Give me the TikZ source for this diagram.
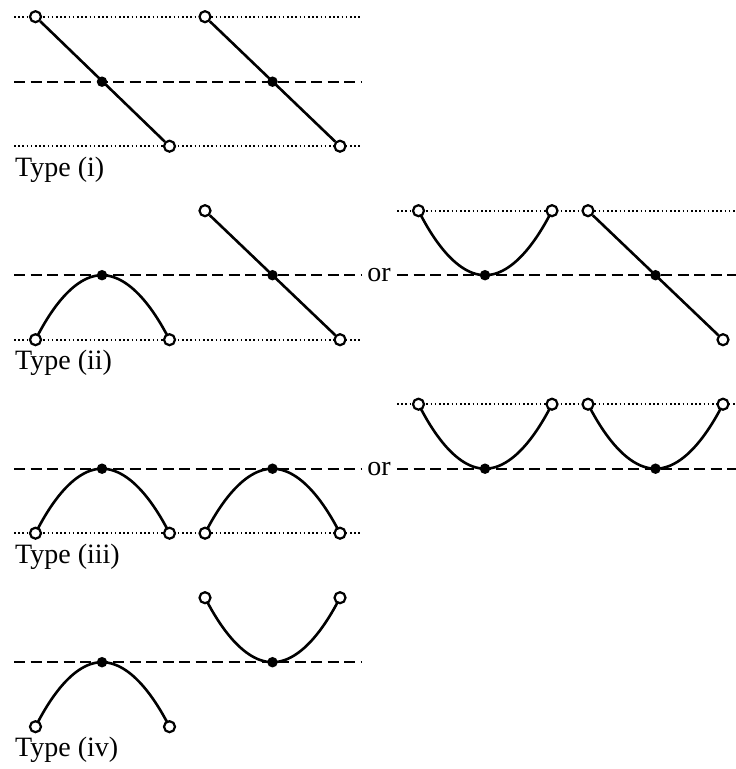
\documentclass[tikz,border=0pt]{standalone}
\usepackage{fontspec}
\setmainfont{Liberation Serif}
\usetikzlibrary{backgrounds}

\begin{document}
\begin{tikzpicture}[
    x=1pt, y=-1pt,
    opendot/.style={circle, draw=black, line width=2.2pt, fill=white, inner sep=0pt, minimum size=11pt},
    fulldot/.style={circle, fill=black, inner sep=0pt, minimum size=10.5pt},
    curve/.style={line width=2.6pt},
    dashline/.style={line width=2.3pt, dash pattern=on 11pt off 5.5pt},
    dotline/.style={line width=1.6pt, dash pattern=on 1.5pt off 2.7pt},
    typelabel/.style={font=\fontsize{28}{33}\selectfont, anchor=base west, inner sep=0pt},
    ortext/.style={font=\fontsize{28}{33}\selectfont, inner sep=0pt},
  ]
    \useasboundingbox (0,0) rectangle (736,769);
    % Type (i)
    \node[opendot] (i-t1) at (35.5,16.7) {};
    \node[fulldot] (i-m1) at (102,81.7) {};
    \node[opendot] (i-b1) at (169.5,146.2) {};
    \node[opendot] (i-t2) at (205,16.7) {};
    \node[fulldot] (i-m2) at (272.5,81.7) {};
    \node[opendot] (i-b2) at (340,146.2) {};
    \node[typelabel] (i-lab) at (15,176.2) {Type (i)};
    % Type (ii)
    \node[opendot] (ii-b1) at (35.5,339.7) {};
    \node[fulldot] (ii-m1) at (102,275.2) {};
    \node[opendot] (ii-b2) at (169.5,339.7) {};
    \node[opendot] (ii-t1) at (205,210.7) {};
    \node[fulldot] (ii-m2) at (272.5,275.2) {};
    \node[opendot] (ii-b3) at (340,339.7) {};
    \node[ortext] (ii-or) at (379,275.2) {or};
    \node[opendot] (ii-t2) at (418.5,210.7) {};
    \node[fulldot] (ii-m3) at (485,275.2) {};
    \node[opendot] (ii-t3) at (552,210.7) {};
    \node[opendot] (ii-t4) at (588,210.7) {};
    \node[fulldot] (ii-m4) at (655.5,275.2) {};
    \node[opendot] (ii-b4) at (723,339.7) {};
    \node[typelabel] (ii-lab) at (15,369.7) {Type (ii)};
    % Type (iii)
    \node[opendot] (iii-b1) at (35.5,533.2) {};
    \node[fulldot] (iii-m1) at (102,468.7) {};
    \node[opendot] (iii-b2) at (169.5,533.2) {};
    \node[opendot] (iii-b3) at (205,533.2) {};
    \node[fulldot] (iii-m2) at (272.5,468.7) {};
    \node[opendot] (iii-b4) at (340,533.2) {};
    \node[ortext] (iii-or) at (379,468.7) {or};
    \node[opendot] (iii-t1) at (418.5,404.2) {};
    \node[fulldot] (iii-m3) at (485,468.7) {};
    \node[opendot] (iii-t2) at (552,404.2) {};
    \node[opendot] (iii-t3) at (588,404.2) {};
    \node[fulldot] (iii-m4) at (655.5,468.7) {};
    \node[opendot] (iii-t4) at (723,404.2) {};
    \node[typelabel] (iii-lab) at (15,563.2) {Type (iii)};
    % Type (iv)
    \node[opendot] (iv-b1) at (35.5,726.7) {};
    \node[fulldot] (iv-m1) at (102,662.2) {};
    \node[opendot] (iv-b2) at (169.5,726.7) {};
    \node[opendot] (iv-t1) at (205,597.7) {};
    \node[fulldot] (iv-m2) at (272.5,662.2) {};
    \node[opendot] (iv-t2) at (340,597.7) {};
    \node[typelabel] (iv-lab) at (15,756.7) {Type (iv)};

    \begin{scope}[on background layer]
      % guide lines
      \draw[dotline] (14,16.7) -- (362,16.7);
      \draw[dashline] (14,81.7) -- (362,81.7);
      \draw[dotline] (14,146.2) -- (362,146.2);
      \draw[dashline] (14,275.2) -- (362,275.2);
      \draw[dotline] (14,339.7) -- (362,339.7);
      \draw[dotline] (397,210.7) -- (736,210.7);
      \draw[dashline] (397,275.2) -- (736,275.2);
      \draw[dashline] (14,468.7) -- (362,468.7);
      \draw[dotline] (14,533.2) -- (362,533.2);
      \draw[dotline] (397,404.2) -- (736,404.2);
      \draw[dashline] (397,468.7) -- (736,468.7);
      \draw[dashline] (14,662.2) -- (362,662.2);
      % branches
      \draw[curve] (ii-b1.center) parabola bend (ii-m1.center) (ii-b2.center);
      \draw[curve] (ii-t2.center) parabola bend (ii-m3.center) (ii-t3.center);
      \draw[curve] (iii-b1.center) parabola bend (iii-m1.center) (iii-b2.center);
      \draw[curve] (iii-b3.center) parabola bend (iii-m2.center) (iii-b4.center);
      \draw[curve] (iii-t1.center) parabola bend (iii-m3.center) (iii-t2.center);
      \draw[curve] (iii-t3.center) parabola bend (iii-m4.center) (iii-t4.center);
      \draw[curve] (iv-b1.center) parabola bend (iv-m1.center) (iv-b2.center);
      \draw[curve] (iv-t1.center) parabola bend (iv-m2.center) (iv-t2.center);
    \end{scope}
    \draw[curve] (i-t1) -- (i-b1);
    \draw[curve] (i-t2) -- (i-b2);
    \draw[curve] (ii-t1) -- (ii-b3);
    \draw[curve] (ii-t4) -- (ii-b4);
\end{tikzpicture}
\end{document}
